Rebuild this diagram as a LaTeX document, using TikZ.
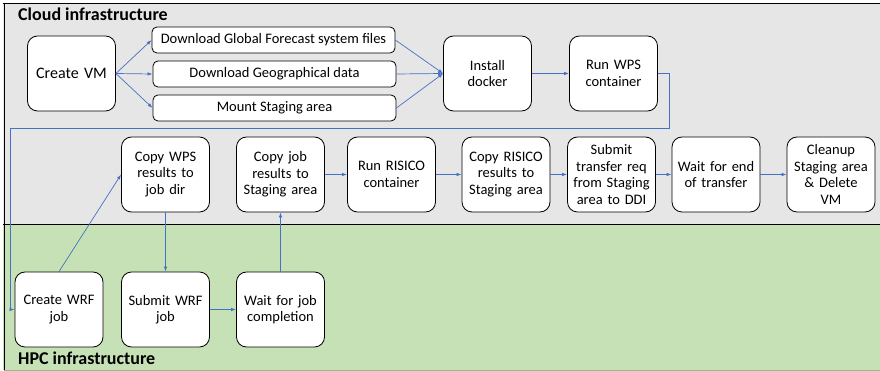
\documentclass[tikz,border=0pt]{standalone}
\usepackage{fontspec}
\setmainfont{Carlito}
\usetikzlibrary{arrows.meta}
\definecolor{cloudgray}{HTML}{E7E6E6}
\definecolor{hpcgreen}{HTML}{C6E1B5}
\definecolor{flowblue}{HTML}{4472C4}
\begin{document}
\begin{tikzpicture}[x=1pt,y=-1pt,
  bigbox/.style={draw,fill=white,line width=0.8pt,rounded corners=10pt,
    minimum width=88pt,minimum height=75pt,text width=86pt,align=center,
    inner sep=1pt,font=\fontsize{14.5}{16.5}\selectfont},
  barbox/.style={draw,fill=white,line width=0.8pt,rounded corners=5pt,
    minimum width=243pt,minimum height=26pt,align=center,
    font=\fontsize{14.5}{16.5}\selectfont},
  flow/.style={draw=flowblue,line width=0.7pt,-{Latex[length=5pt,width=3.5pt]}},
  areatitle/.style={anchor=west,inner sep=0pt,font=\fontsize{18}{20}\selectfont\bfseries}]
\useasboundingbox (0,0) rectangle (880,371);

% the two infrastructure areas
\fill[cloudgray] (3,3) rectangle (880,224);
\fill[hpcgreen] (3,224) rectangle (880,370);
\draw[line width=0.9pt] (3,3) -- (880,3);
\draw[line width=0.9pt] (4,3) -- (4,370);
\draw[line width=0.9pt] (3,224) -- (880,224);
\draw[hpcgreen!80!black,line width=0.6pt] (4,370) -- (880,370);
\node[areatitle] (cloud) at (18,14) {Cloud infrastructure};
\node[areatitle] (hpc) at (18,358) {HPC infrastructure};

% cloud, first row
\node[bigbox,font=\fontsize{16}{19}\selectfont] (vm) at (71.5,73.5) {Create VM};
\node[barbox] (gfs) at (273.5,40) {Download Global Forecast system files};
\node[barbox] (geo) at (274.5,74) {Download Geographical data};
\node[barbox] (stg) at (274.5,108) {Mount Staging area};
\node[bigbox] (dock) at (487.5,73.5) {Install\\docker};
\node[bigbox] (wps) at (613.5,73.5) {Run WPS\\container};

% cloud, second row
\node[bigbox] (cpwps) at (165.5,174.5) {Copy WPS\\results to\\job dir};
\node[bigbox] (cpjob) at (280.5,174.5) {Copy job\\results to\\Staging area};
\node[bigbox] (risico) at (391.5,174.5) {Run RISICO\\container};
\node[bigbox] (cpris) at (506,174.5) {Copy RISICO\\results to\\Staging area};
\node[bigbox] (xfer) at (611.5,174.5) {Submit\\transfer req\\from Staging\\area to DDI};
\node[bigbox] (waitx) at (716,174.5) {Wait for end\\of transfer};
\node[bigbox] (clean) at (831,174.5) {Cleanup\\Staging area\\\& Delete\\VM};

% hpc row
\node[bigbox] (wrf) at (59,309.5) {Create WRF\\job};
\node[bigbox] (sub) at (165.5,309.5) {Submit WRF\\job};
\node[bigbox] (done) at (280.5,309.5) {Wait for job\\completion};

\coordinate (turnr) at (669,128);
\coordinate (turnl) at (10,128);

\draw[flow] (vm.east) -- (gfs.west);
\draw[flow] (vm.east) -- (geo.west);
\draw[flow] (vm.east) -- (stg.west);
\draw[flow] (gfs.east) -- (dock.west);
\draw[flow] (geo.east) -- (dock.west);
\draw[flow] (stg.east) -- (dock.west);
\draw[flow] (dock) -- (wps);
\draw[flow] (wps.east) -| (turnr) -- (turnl) |- (wrf.west);
\draw[flow] (wrf.north) -- (cpwps.west);
\draw[flow] (cpwps) -- (sub);
\draw[flow] (sub) -- (done);
\draw[flow] (done) -- (cpjob);
\draw[flow] (cpjob) -- (risico);
\draw[flow] (risico) -- (cpris);
\draw[flow] (cpris) -- (xfer);
\draw[flow] (xfer) -- (waitx);
\draw[flow] (waitx) -- (clean);
\end{tikzpicture}
\end{document}
